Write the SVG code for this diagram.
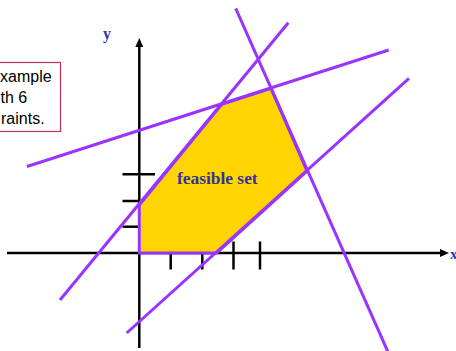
<svg xmlns="http://www.w3.org/2000/svg" width="456" height="351" viewBox="0 0 456 351">
<style>
.axis{stroke:#000;stroke-width:2.5;fill:none}
.tick{stroke:#000;stroke-width:2.5}
.con{stroke:#9933ff;stroke-width:3;fill:none}
.feas{fill:#ffd400;stroke:#9933ff;stroke-width:3;stroke-linejoin:miter}
.lbl{font-family:"Liberation Serif","Times New Roman",serif;font-weight:bold;fill:#333399}
.note{font-family:"Liberation Sans",Arial,sans-serif;font-size:16px;fill:#000}
</style>
<defs>
<marker id="arr" markerUnits="userSpaceOnUse" markerWidth="10" markerHeight="10" viewBox="0 0 10 10" refX="0" refY="5" orient="auto">
<path d="M0,1 L9,5 L0,9 Z" fill="#000"/>
</marker>
</defs>
<g id="note">
<rect x="-40" y="62.5" width="100.5" height="69" fill="#fff" stroke="#c0305c" stroke-width="1.2"/>
<text class="note" x="0" y="81.7">xample</text>
<text class="note" x="0.5" y="103.3">th 6</text>
<text class="note" x="1" y="124">raints.</text>
</g>
<g id="axes">
<line class="axis" x1="7" y1="253" x2="440" y2="253" marker-end="url(#arr)"/>
<line class="axis" x1="139.3" y1="348" x2="139.3" y2="47" marker-end="url(#arr)"/>
<line class="tick" x1="122.5" y1="174.3" x2="155" y2="174.3"/>
<line class="tick" x1="122.5" y1="201" x2="139.3" y2="201"/>
<line class="tick" x1="122.5" y1="226.7" x2="139.3" y2="226.7"/>
<line class="tick" x1="170.7" y1="253" x2="170.7" y2="269.5"/>
<line class="tick" x1="202.3" y1="253" x2="202.3" y2="269.5"/>
<line class="tick" x1="233.5" y1="241.5" x2="233.5" y2="269.5"/>
<line class="tick" x1="260" y1="241.5" x2="260" y2="269.5"/>
<text class="lbl" x="103" y="38.5" font-size="16" style="fill:#3535b5">y</text>
<text class="lbl" x="450" y="258.5" font-size="15" style="fill:#3535b5">x</text>
</g>
<g id="feasible-set">
<polygon class="feas" points="139.3,253 139.3,205 221.7,104.3 271,88.3 307,171 216.7,253"/>
<text class="lbl" x="177" y="184.3" font-size="17.4">feasible set</text>
</g>
<g id="connectors">
<line class="con" x1="235.7" y1="8.3" x2="388" y2="352"/>
<line class="con" x1="288.3" y1="22.7" x2="60" y2="300"/>
<line class="con" x1="27" y1="166.5" x2="388.7" y2="50"/>
<line class="con" x1="409" y1="78.3" x2="126.7" y2="333"/>
</g>
</svg>
